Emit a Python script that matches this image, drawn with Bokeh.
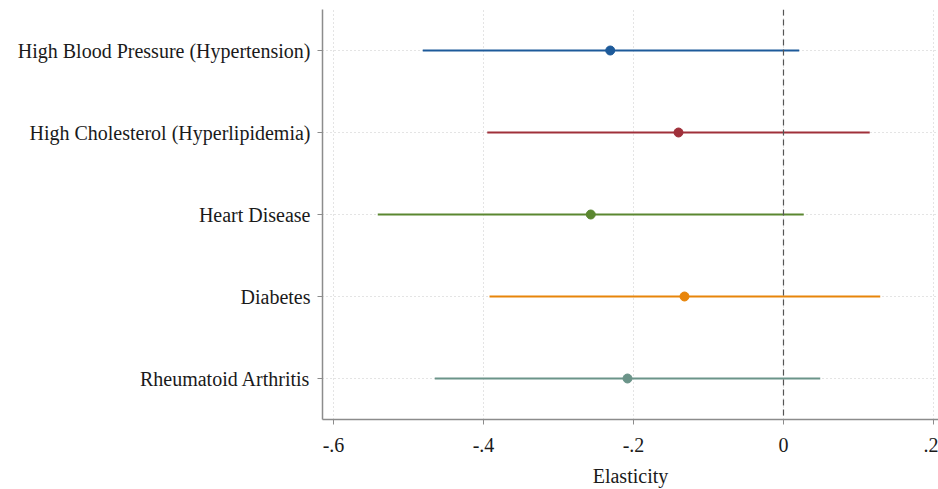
from bokeh.plotting import figure
from bokeh.models import ColumnDataSource, Span, FixedTicker
from bokeh.embed import file_html
from bokeh.resources import INLINE

categories = ["High Blood Pressure (Hypertension)", "High Cholesterol (Hyperlipidemia)",
              "Heart Disease", "Diabetes", "Rheumatoid Arthritis"]
estimates = [-0.231, -0.140, -0.257, -0.132, -0.208]
ci_low = [-0.481, -0.395, -0.541, -0.392, -0.465]
ci_high = [0.021, 0.115, 0.027, 0.129, 0.049]
colors = ["#1d5a9a", "#a0303a", "#5b8730", "#e8850a", "#6b9489"]
xticks = [-0.6, -0.4, -0.2, 0, 0.2]
xtick_labels = ["-.6", "-.4", "-.2", "0", ".2"]

ypos = [5, 4, 3, 2, 1]
src = ColumnDataSource(dict(y=ypos, est=estimates, lo=ci_low, hi=ci_high, c=colors))

FONT = "Liberation Serif"
p = figure(width=938, height=489, output_backend="svg", toolbar_location=None,
           x_range=(-0.6147, 0.2067), y_range=(0.5, 5.5),
           min_border_left=322, min_border_right=0, min_border_top=9, min_border_bottom=70)
p.outline_line_color = None
p.background_fill_color = "white"
p.border_fill_color = "white"

p.segment(x0="lo", x1="hi", y0="y", y1="y", line_color="c", line_width=2, source=src)
p.scatter(x="est", y="y", size=9, fill_color="c", line_color="c", source=src)

p.add_layout(Span(location=0, dimension="height", line_color="#555555",
                  line_dash="6 4", line_width=1.2))

p.xaxis.ticker = FixedTicker(ticks=xticks)
p.xaxis.major_label_overrides = {t: l for t, l in zip(xticks, xtick_labels)}
p.yaxis.ticker = FixedTicker(ticks=ypos)
p.yaxis.major_label_overrides = {y: c for y, c in zip(ypos, categories)}
p.xaxis.axis_label = "Elasticity"

for ax in (p.xaxis, p.yaxis):
    ax.axis_line_color = "#8c8c8c"
    ax.axis_line_width = 1.5
    ax.major_tick_line_color = "#8c8c8c"
    ax.major_tick_in = 0
    ax.major_tick_out = 5
    ax.minor_tick_line_color = None
    ax.major_label_text_font = FONT
    ax.major_label_text_font_size = "20px"
    ax.major_label_text_color = "#1a1a1a"
    ax.axis_label_text_font = FONT
    ax.axis_label_text_font_size = "20px"
    ax.axis_label_text_font_style = "normal"
    ax.axis_label_text_color = "#1a1a1a"
p.xaxis.major_label_standoff = 13
p.xaxis.axis_label_standoff = 10
p.yaxis.major_label_standoff = 7

for g in (p.xgrid, p.ygrid):
    g.grid_line_color = "#c8c8c8"
    g.grid_line_dash = "1 3"
    g.grid_line_width = 1
p.xgrid.ticker = FixedTicker(ticks=xticks)
p.ygrid.ticker = FixedTicker(ticks=ypos)

open("out.html", "w").write(file_html(p, INLINE))
